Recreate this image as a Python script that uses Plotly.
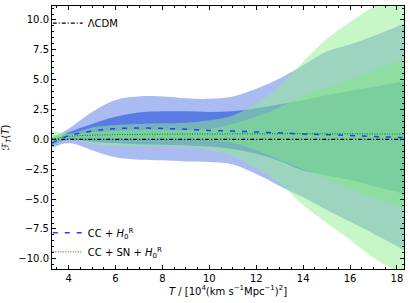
import plotly.graph_objects as go

# ---- data ----
T = [3.3, 4, 5, 6, 7, 8, 9, 10, 11, 12, 13, 14, 15, 16, 17, 18.3]

cc_mean = [-0.3, 0.3, 0.7, 0.9, 0.95, 0.92, 0.85, 0.75, 0.7, 0.62, 0.55, 0.45, 0.4, 0.33, 0.25, 0.15]
cc_1s_up = [-0.1, 0.6, 1.3, 1.9, 2.25, 2.35, 2.35, 2.3, 2.35, 2.6, 2.95, 3.3, 3.7, 4.05, 4.4, 4.9]
cc_1s_lo = [-0.5, 0.0, -0.2, -0.3, -0.4, -0.45, -0.5, -0.6, -0.8, -1.2, -1.8, -2.6, -3.0, -3.4, -3.9, -4.55]
cc_2s_up = [0.15, 0.9, 2.3, 3.3, 3.6, 3.6, 3.45, 3.4, 3.6, 4.25, 5.1, 6.2, 7.35, 7.95, 8.65, 9.7]
cc_2s_lo = [-0.7, -0.3, -0.9, -1.5, -1.7, -1.75, -1.85, -1.9, -2.1, -2.9, -3.9, -4.85, -5.9, -6.9, -7.9, -9.25]

sn_mean = [0.05, 0.25, 0.35, 0.4, 0.42, 0.44, 0.45, 0.45, 0.46, 0.47, 0.48, 0.48, 0.47, 0.47, 0.46, 0.45]
sn_1s_up = [0.4, 0.35, 0.6, 0.7, 0.8, 0.8, 0.8, 0.9, 1.3, 1.9, 2.7, 3.6, 4.3, 5.0, 5.8, 6.6]
sn_1s_lo = [-0.3, 0.1, 0.1, 0.08, 0.05, 0.05, 0.05, -0.05, -0.3, -0.9, -1.7, -2.5, -3.3, -4.1, -4.9, -5.65]
sn_2s_up = [0.75, 0.5, 1.0, 1.2, 1.3, 1.35, 1.4, 1.6, 2.0, 3.0, 4.5, 6.5, 8.4, 9.8, 11.1, 12.4]
sn_2s_lo = [-0.65, 0.05, -0.4, -0.55, -0.6, -0.6, -0.65, -0.9, -1.4, -2.4, -3.7, -5.5, -7.0, -8.4, -9.9, -11.4]

lcdm = [0.0] * len(T)

x_ticks = [4, 6, 8, 10, 12, 14, 16, 18]
y_ticks = [-10.0, -7.5, -5.0, -2.5, 0.0, 2.5, 5.0, 7.5, 10.0]

FONT = "DejaVu Sans"
fig = go.Figure()


def band(lo, up, color):
    fig.add_trace(go.Scatter(x=T, y=lo, mode="lines", line=dict(width=0, shape="spline"),
                             showlegend=False, hoverinfo="skip"))
    fig.add_trace(go.Scatter(x=T, y=up, mode="lines", line=dict(width=0, shape="spline"),
                             fill="tonexty", fillcolor=color, showlegend=False, hoverinfo="skip"))


band(cc_2s_lo, cc_2s_up, "rgba(65,105,225,0.45)")
band(cc_1s_lo, cc_1s_up, "rgba(65,105,225,0.78)")
band(sn_2s_lo, sn_2s_up, "rgba(144,238,144,0.5)")
band(sn_1s_lo, sn_1s_up, "rgba(130,232,130,0.5)")

fig.add_trace(go.Scatter(x=T, y=lcdm, mode="lines", name="ΛCDM",
                         line=dict(color="black", width=1.2, dash="4px,2px,1px,2px"),
                         legend="legend"))
fig.add_trace(go.Scatter(x=T, y=cc_mean, mode="lines", name="CC + <i>H</i><sub>0</sub><sup>R</sup>",
                         line=dict(color="#1f3fff", width=1.5, dash="5px,7px", shape="spline"),
                         legend="legend2"))
fig.add_trace(go.Scatter(x=T, y=sn_mean, mode="lines", name="CC + SN + <i>H</i><sub>0</sub><sup>R</sup>",
                         line=dict(color="green", width=1, dash="1px,1.5px", shape="spline"),
                         legend="legend2"))

axis_common = dict(showgrid=False, zeroline=False, showline=True, linecolor="black", linewidth=1,
                   mirror="allticks", ticks="inside", ticklen=4, tickcolor="black",
                   tickfont=dict(family=FONT, size=10, color="black"))

fig.update_layout(
    width=410, height=303,
    margin=dict(l=48, r=6, t=5, b=34),
    paper_bgcolor="white", plot_bgcolor="white",
    font=dict(family=FONT, size=10, color="black"),
    xaxis=dict(range=[3.29, 18.3], tickvals=x_ticks, ticktext=[str(v) for v in x_ticks],
               minor=dict(ticks="inside", dtick=0.5, ticklen=2, tickcolor="black"),
               title=dict(text="<i>T</i> / [10<sup>4</sup>(km s<sup>−1</sup>Mpc<sup>−1</sup>)<sup>2</sup>]",
                          font=dict(family=FONT, size=10), standoff=4),
               **axis_common),
    yaxis=dict(range=[-10.85, 11.17], tickvals=y_ticks, tickformat=".1f",
               minor=dict(ticks="inside", dtick=0.5, ticklen=2, tickcolor="black"),
               title=dict(text="ℱ<sub><i>T</i></sub>(<i>T</i>)", font=dict(family=FONT, size=10), standoff=6),
               **axis_common),
    legend=dict(x=-0.012, y=0.99, xanchor="left", yanchor="top", bgcolor="rgba(0,0,0,0)",
                font=dict(family=FONT, size=10), itemwidth=30),
    legend2=dict(x=-0.012, y=0.01, xanchor="left", yanchor="bottom", bgcolor="rgba(0,0,0,0)",
                 font=dict(family=FONT, size=10), itemwidth=30, tracegroupgap=0),
)

fig.write_html("out.html", config={"displayModeBar": False},
               post_script="document.body.style.margin='0';")
